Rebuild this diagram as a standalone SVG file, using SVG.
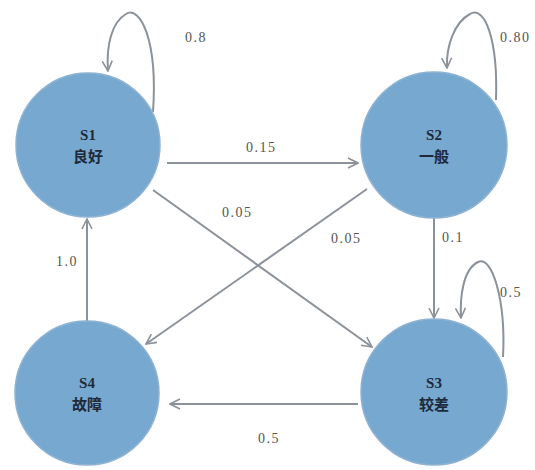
<svg xmlns="http://www.w3.org/2000/svg" width="535" height="470" viewBox="0 0 535 470">
<style>
.node{fill:#77a8cf;stroke:#8db2d2;stroke-width:1.5}
.nt{font-family:"Liberation Serif","DejaVu Serif","Noto Sans CJK SC",serif;font-size:15px;fill:#1e2a3a;text-anchor:middle;font-weight:bold}
.edge{fill:none;stroke:#8c9299;stroke-width:2;marker-end:url(#ah)}
.lbl{font-family:"Liberation Serif","DejaVu Serif",serif;font-size:14px;fill:#555;letter-spacing:1.5px}
</style>
<defs>
<marker id="ah" viewBox="0 0 12 12" refX="11" refY="6" markerWidth="12" markerHeight="12" markerUnits="userSpaceOnUse" orient="auto">
<path d="M1,1 L11,6 L1,11" fill="none" stroke="#8c9299" stroke-width="1.6"/>
</marker>
</defs>
<rect width="535" height="470" fill="#ffffff"/>
<g id="edges">
<path class="edge" d="M153,112 C158,40 140,5 126,14 C112,22 106,45 108,71"/>
<path class="edge" d="M167,163 L358,163"/>
<path class="edge" d="M153,190 L372,347"/>
<path class="edge" d="M367,189 L146,344"/>
<path class="edge" d="M434,218 L434,318"/>
<path class="edge" d="M496,100 C498,40 485,5 470,14 C455,22 446,45 447,68"/>
<path class="edge" d="M503,357 C506,300 492,255 478,262 C462,270 460,300 461,318"/>
<path class="edge" d="M87,322 L87,219"/>
<path class="edge" d="M358,404 L170,404"/>
</g>
<g id="labels">
<text class="lbl" x="185" y="42">0.8</text>
<text class="lbl" x="246" y="152">0.15</text>
<text class="lbl" x="222" y="217">0.05</text>
<text class="lbl" x="331" y="243">0.05</text>
<text class="lbl" x="442" y="242">0.1</text>
<text class="lbl" x="500" y="297">0.5</text>
<text class="lbl" x="500" y="42">0.80</text>
<text class="lbl" x="56" y="266">1.0</text>
<text class="lbl" x="258" y="443">0.5</text>
</g>
<g id="S1"><circle class="node" cx="88" cy="145" r="72"/><text class="nt" x="88" y="140">S1</text><text class="nt" x="88" y="162">良好</text></g>
<g id="S2"><circle class="node" cx="434" cy="145" r="73"/><text class="nt" x="434" y="140">S2</text><text class="nt" x="434" y="162">一般</text></g>
<g id="S3"><circle class="node" cx="434" cy="392" r="73"/><text class="nt" x="434" y="388">S3</text><text class="nt" x="434" y="410">较差</text></g>
<g id="S4"><circle class="node" cx="87" cy="393" r="72"/><text class="nt" x="87" y="388">S4</text><text class="nt" x="87" y="410">故障</text></g>
</svg>
